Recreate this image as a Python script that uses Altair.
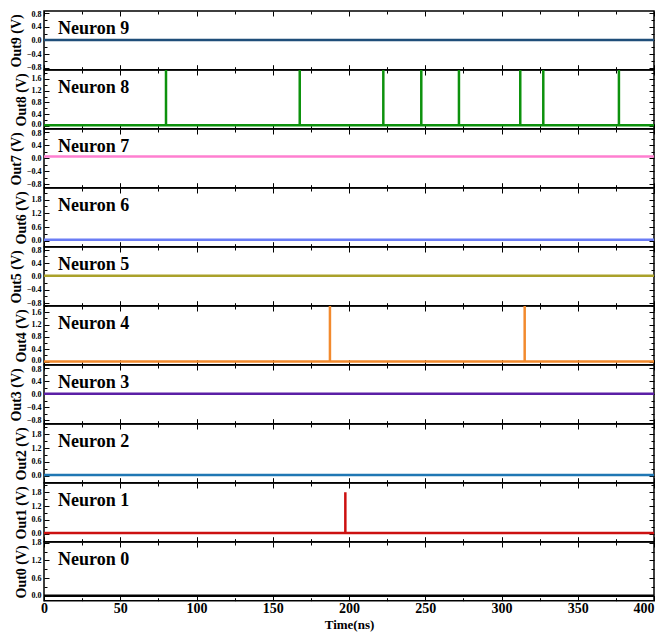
import altair as alt
import pandas as pd

# ---------------- data ----------------
neurons = [9, 8, 7, 6, 5, 4, 3, 2, 1, 0]
colors = {9: "#1f4e79", 8: "#0d920d", 7: "#ff7fd0", 6: "#6a7cf5", 5: "#aaa12a",
          4: "#f28a2e", 3: "#5b1fa6", 2: "#1f77b4", 1: "#cc1010", 0: "#000000"}
baselines = {9: 0.01, 8: 0.03, 7: 0.06, 6: 0.05, 5: 0.02,
             4: 0.0, 3: 0.02, 2: 0.03, 1: 0.03, 0: 0.0}
spike_times = {8: [80.0, 167.7, 222.5, 247.4, 272.1, 312.3, 327.4, 377.0],
               4: [187.5, 315.2],
               1: [197.6]}
spike_peaks = {8: 1.9, 4: 1.8, 1: 1.8}
y_domains = {9: [-0.86, 0.86], 8: [-0.09, 1.9], 7: [-0.9, 0.9], 6: [-0.25, 2.3],
             5: [-0.88, 0.88], 4: [-0.1, 1.8], 3: [-0.9, 0.9], 2: [-0.3, 2.25],
             1: [-0.35, 2.2], 0: [-0.17, 1.83]}
sym_major = [-0.8, -0.4, 0.0, 0.4, 0.8]
sym_minor = [-0.6, -0.2, 0.2, 0.6]
p16_major = [0.0, 0.4, 0.8, 1.2, 1.6]
p16_minor = [0.2, 0.6, 1.0, 1.4, 1.8]
p18_major = [0.0, 0.6, 1.2, 1.8]
p18_minor = [0.3, 0.9, 1.5, 2.1]
y_major = {9: sym_major, 8: p16_major, 7: sym_major, 6: p18_major, 5: sym_major,
           4: p16_major, 3: sym_major, 2: p18_major, 1: p18_major, 0: p18_major}
y_minor = {9: sym_minor, 8: p16_minor, 7: sym_minor, 6: p18_minor, 5: sym_minor,
           4: p16_minor, 3: sym_minor, 2: p18_minor, 1: p18_minor, 0: p18_minor}
x_major = [0, 50, 100, 150, 200, 250, 300, 350, 400]
x_minor = [25, 75, 125, 175, 225, 275, 325, 375]
x_range = [0, 400]

W = 610
H = 58.7
FONT = "Liberation Serif"


def series(n):
    base = baselines[n]
    ts, vs = [x_range[0]], [base]
    for t in spike_times.get(n, []):
        ts += [t, t, t]
        vs += [base, spike_peaks[n], base]
    ts.append(x_range[1])
    vs.append(base)
    return pd.DataFrame({"t": ts, "v": vs, "i": list(range(len(ts)))})


def tick_axis(orient, offset, values, size):
    return alt.Axis(orient=orient, offset=offset, values=values, tickSize=size,
                    tickColor="black", tickWidth=1, labels=False, domain=False,
                    grid=False, title="")


def panel(n, bottom):
    df = series(n)
    xs = alt.Scale(domain=x_range, nice=False, zero=False)
    ys = alt.Scale(domain=y_domains[n], nice=False, zero=False)
    base = alt.Chart(df)

    if bottom:
        x_main = alt.Axis(orient="bottom", values=x_major, ticks=False, domain=False,
                          grid=False, labels=True, labelFont=FONT, labelFontWeight="bold",
                          labelFontSize=14, labelPadding=1, labelFlush=False,
                          labelOverlap=False, labelColor="black",
                          labelAlign={"condition": {"test": "datum.value == 400", "value": "right"},
                                      "value": "center"},
                          title="Time(ns)", titleFont=FONT, titleFontWeight="bold",
                          titleFontSize=13, titlePadding=3, titleColor="black")
    else:
        x_main = alt.Axis(orient="bottom", values=x_major, ticks=False, domain=False,
                          grid=False, labels=False, title="")

    if y_major[n] is sym_major:
        label_offset = {"condition": {"test": "datum.value == 0.8", "value": 1.2}, "value": 0}
    elif y_major[n] is p16_major:
        label_offset = {"condition": {"test": "datum.value == 0", "value": -1.2}, "value": 0}
    else:
        label_offset = 0

    y_main = alt.Axis(orient="left", values=y_major[n], ticks=False, domain=False,
                      grid=False, labels=True, labelFont=FONT, labelFontWeight="bold",
                      labelFontSize=8, labelPadding=3, labelOverlap=False,
                      labelColor="black", format=".1f", labelOffset=label_offset,
                      title=f"Out{n} (V)", titleFont=FONT, titleFontWeight="bold",
                      titleFontSize=14, titlePadding=3, titleColor="black")

    line = base.mark_line(color=colors[n], strokeWidth=2.5, clip=True).encode(
        x=alt.X("t:Q", scale=xs, axis=x_main),
        y=alt.Y("v:Q", scale=ys, axis=y_main),
        order=alt.Order("i:Q"),
    )

    helpers = []
    specs = [
        (("top", -H, x_major, 5), ("right", -W, y_major[n], 5)),
        (("top", -H, x_minor, 3), ("right", -W, y_minor[n], 3)),
        (("bottom", -H, x_major, 5), ("left", -W, y_major[n], 5)),
        (("bottom", -H, x_minor, 3), ("left", -W, y_minor[n], 3)),
    ]
    for xa, ya in specs:
        helpers.append(
            base.mark_point(opacity=0).encode(
                x=alt.X("t:Q", scale=xs, axis=tick_axis(*xa)),
                y=alt.Y("v:Q", scale=ys, axis=tick_axis(*ya)),
            )
        )

    label = alt.Chart(pd.DataFrame({"label": [f"Neuron {n}"]})).mark_text(
        align="left", baseline="alphabetic", font=FONT, fontWeight="bold",
        fontSize=18, color="black"
    ).encode(text="label:N", x=alt.value(14), y=alt.value(23))

    return alt.layer(line, *helpers, label).resolve_axis(
        x="independent", y="independent"
    ).properties(width=W, height=H)


panels = [panel(n, n == neurons[-1]) for n in neurons]

chart = alt.vconcat(*panels, spacing=0, bounds="flush").properties(
    padding={"left": 8, "top": 9, "right": 0, "bottom": 4}
).configure_view(stroke="black", strokeWidth=1.5)

chart.save("out.html", embed_options={"renderer": "svg", "actions": False})
